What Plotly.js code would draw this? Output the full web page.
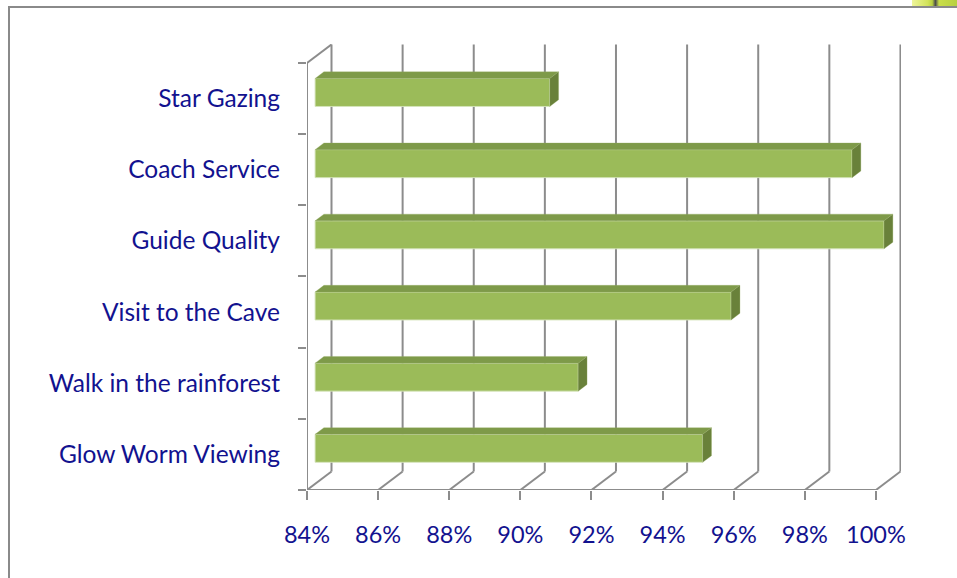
<!DOCTYPE html>
<html>
<head>
<meta charset="utf-8">
<script src="https://cdn.plot.ly/plotly-3.0.1.min.js"></script>
<style>
html,body{margin:0;padding:0;background:#fff;}
#frame{position:absolute;left:8px;top:6px;width:960px;height:600px;border-left:2px solid #8a8a8a;border-top:2px solid #8a8a8a;box-sizing:border-box;pointer-events:none;}
#deco{position:absolute;left:912px;top:0;width:45px;height:6px;background:linear-gradient(90deg,#eef59a 0%,#d2e35a 35%,#b9d040 45%,#4a4a4a 52%,#c9de4a 60%,#b8d040 100%);}
#chart{position:absolute;left:0;top:0;width:957px;height:578px;}
</style>
</head>
<body>
<div id="chart"></div>
<div id="frame"></div>
<div id="deco"></div>
<script>
// ---- data (top to bottom as displayed) ----
const categories = ["Star Gazing","Coach Service","Guide Quality","Visit to the Cave","Walk in the rainforest","Glow Worm Viewing"];
const values = [90.6, 99.1, 100.0, 95.7, 91.4, 94.9];
const tickValues = [84, 86, 88, 90, 92, 94, 96, 98, 100];
const tickLabels = ["84%","86%","88%","90%","92%","94%","96%","98%","100%"];

// ---- geometry (pixels) ----
const W = 957, H = 578;
const mLeft = 307, mTop = 44, mBottom = 88, mRight = 56;
const pxPerPct = 35.56;      // front plane scale
const pxPerCat = 71.17;
const depthPxX = 24.5, depthPxY = 18.5;
const xMin = 84, xMax = 84 + (W - mLeft - mRight) / pxPerPct;
const yMin = -0.5, yMax = -0.5 + (H - mTop - mBottom) / pxPerCat;
const dX = depthPxX / pxPerPct, dY = depthPxY / pxPerCat;
const f1 = 0.33, f2 = 0.69, barH = 28 / pxPerCat;

const n = categories.length;
const pos = categories.map((c, i) => n - 1 - i);

const gridColor = "#8c8c8c";
const navy = "#12128f";

// ---- gridlines / walls as shapes ----
const shapes = [];
const line = (x0, y0, x1, y1) => shapes.push({type:"line", xref:"x", yref:"y", x0, y0, x1, y1, layer:"below", line:{color:gridColor, width:2}});
tickValues.forEach(t => {
  line(t + dX, yMin + dY, t + dX, n - 0.5 + dY);   // back wall vertical
  line(t, yMin, t + dX, yMin + dY);                 // floor diagonal
});
line(84, yMin, 100, yMin);                           // front floor edge
line(84, yMin, 84, n - 0.5);                         // front left axis
line(84, n - 0.5, 84 + dX, n - 0.5 + dY);            // left wall top diagonal

// ---- 3D bar faces ----
const frontBar = {
  type: "bar", orientation: "h",
  y: pos.map(p => p + f1 * dY),
  base: values.map(() => 84 + f1 * dX),
  x: values.map(v => v - 84),
  width: barH,
  marker: {color: "#9bbb59", line: {color: "rgba(214,228,188,0.9)", width: 1}},
  hoverinfo: "skip"
};
const topX = [], topY = [], sideX = [], sideY = [];
values.forEach((v, i) => {
  const c = pos[i];
  const xl1 = 84 + f1 * dX, xr1 = v + f1 * dX;
  const xl2 = 84 + f2 * dX, xr2 = v + f2 * dX;
  const yt1 = c + f1 * dY + barH / 2, yb1 = c + f1 * dY - barH / 2;
  const yt2 = c + f2 * dY + barH / 2, yb2 = c + f2 * dY - barH / 2;
  topX.push(xl1, xr1, xr2, xl2, xl1, null);
  topY.push(yt1, yt1, yt2, yt2, yt1, null);
  sideX.push(xr1, xr1, xr2, xr2, xr1, null);
  sideY.push(yb1, yt1, yt2, yb2, yb1, null);
});
const topFace = {type:"scatter", mode:"lines", x: topX, y: topY, fill:"toself", fillcolor:"#7e9a49", line:{color:"rgba(150,175,100,0.6)", width:0.5}, hoverinfo:"skip"};
const sideFace = {type:"scatter", mode:"lines", x: sideX, y: sideY, fill:"toself", fillcolor:"#69813a", line:{color:"rgba(150,175,100,0.6)", width:0.5}, hoverinfo:"skip"};

const layout = {
  width: W, height: H,
  margin: {l: mLeft, r: mRight, t: mTop, b: mBottom, pad: 0},
  paper_bgcolor: "#ffffff", plot_bgcolor: "rgba(0,0,0,0)",
  showlegend: false,
  font: {family: "Lato, 'DejaVu Sans', sans-serif", color: navy},
  xaxis: {
    range: [xMin, xMax], tickmode: "array", tickvals: tickValues, ticktext: tickLabels,
    ticks: "outside", ticklen: 9, tickwidth: 2, tickcolor: gridColor,
    showgrid: false, zeroline: false, showline: false,
    tickfont: {size: 23.5, color: navy, family: "Lato, sans-serif"},
    ticklabelstandoff: 15, fixedrange: true
  },
  yaxis: {
    range: [yMin, yMax], tickmode: "array", tickvals: pos, ticktext: categories,
    ticks: "", showgrid: false, zeroline: false, showline: false,
    minor: {tickmode: "array", tickvals: [-0.5,0.5,1.5,2.5,3.5,4.5,5.5], ticks: "outside", ticklen: 8, tickwidth: 2, tickcolor: gridColor, showgrid: false},
    tickfont: {size: 24.5, color: navy, family: "Lato, sans-serif"},
    ticklabelstandoff: 26, fixedrange: true
  },
  shapes: shapes,
  bargap: 0
};

Plotly.newPlot("chart", [frontBar, topFace, sideFace], layout, {displayModeBar: false, staticPlot: true});
</script>
</body>
</html>
